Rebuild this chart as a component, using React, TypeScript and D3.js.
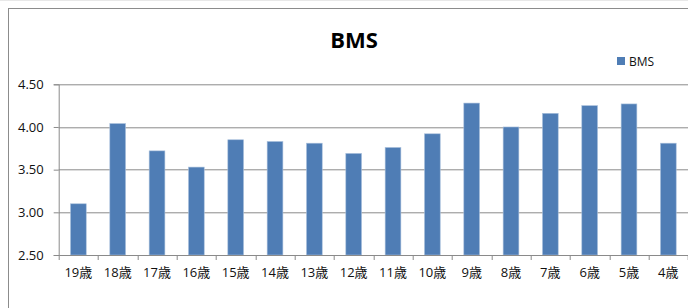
import * as d3 from "d3";
import { useEffect, useRef } from "react";

const ages = ["19歳", "18歳", "17歳", "16歳", "15歳", "14歳", "13歳", "12歳", "11歳", "10歳", "9歳", "8歳", "7歳", "6歳", "5歳", "4歳"];
const bmsValues = [3.10, 4.04, 3.72, 3.53, 3.85, 3.83, 3.81, 3.69, 3.76, 3.92, 4.28, 4.00, 4.16, 4.25, 4.27, 3.81];
const yTicks = [2.5, 3.0, 3.5, 4.0, 4.5];
const seriesName = "BMS";

const W = 688;
const H = 308;

const App = () => {
    const ref = useRef<SVGSVGElement>(null);

    useEffect(() => {
        const svg = d3.select(ref.current);
        svg.selectAll("*").remove();

        const margin = { top: 84.3, bottom: 53, left: 58.7, right: 0 };
        const boundsW = W - margin.left - margin.right;
        const boundsH = H - margin.top - margin.bottom;
        const font = "'Open Sans', 'Noto Sans CJK JP', sans-serif";

        // chart frame
        svg.append("line").attr("x1", 0).attr("x2", W).attr("y1", 0.5).attr("y2", 0.5)
            .attr("stroke", "#e8e8e8");
        svg.append("rect").attr("x", 8.5).attr("y", 8.5).attr("width", W).attr("height", H)
            .attr("fill", "white").attr("stroke", "#8c8c8c");

        const x = d3.scaleBand().domain(ages).range([0, boundsW]);
        const y = d3.scaleLinear().domain([2.5, 4.5]).range([boundsH, 0]);

        const g = svg.append("g").attr("transform", `translate(${margin.left}, ${margin.top})`);

        // gridlines
        g.selectAll(".grid").data(yTicks.slice(1)).enter().append("line")
            .attr("x1", 0).attr("x2", boundsW)
            .attr("y1", d => Math.round(y(d)) + 0.5).attr("y2", d => Math.round(y(d)) + 0.5)
            .attr("stroke", "#8a8a8a");

        // bars
        const bw = x.bandwidth() * 0.4;
        g.selectAll(".bar").data(bmsValues).enter().append("rect")
            .attr("x", (d, i) => x(ages[i])! + (x.bandwidth() - bw) / 2)
            .attr("y", d => y(d))
            .attr("width", bw)
            .attr("height", d => boundsH - y(d))
            .attr("fill", "#4f7db5")
            .attr("stroke", "#a9c0dc").attr("stroke-width", 0.6);

        // y axis
        const yAxis = d3.axisLeft(y).tickValues(yTicks).tickFormat(d3.format(".2f")).tickSize(5).tickPadding(10);
        const ya = g.append("g").call(yAxis);
        ya.select(".domain").attr("stroke", "#8a8a8a");
        ya.selectAll("line").attr("stroke", "#8a8a8a");
        ya.selectAll("text").attr("font-family", font).attr("font-size", 13).attr("fill", "#111");

        // x axis
        const xAxis = d3.axisBottom(x).tickSize(0).tickPadding(13);
        const xa = g.append("g").attr("transform", `translate(0, ${boundsH})`).call(xAxis);
        xa.select(".domain").attr("stroke", "#8a8a8a");
        xa.selectAll("text").attr("font-family", font).attr("font-size", 13).attr("fill", "#111");
        xa.selectAll(".sep").data(d3.range(ages.length + 1)).enter().append("line")
            .attr("x1", i => Math.round(i * x.step()) + 0.5).attr("x2", i => Math.round(i * x.step()) + 0.5)
            .attr("y1", 0).attr("y2", 5).attr("stroke", "#8a8a8a");

        // title
        svg.append("text").attr("x", 354).attr("y", 48).attr("text-anchor", "middle")
            .attr("font-family", font).attr("font-weight", "bold").attr("font-size", 22)
            .attr("fill", "#000").text(seriesName);

        // legend
        svg.append("rect").attr("x", 617).attr("y", 57).attr("width", 8).attr("height", 8).attr("fill", "#4f7db5");
        svg.append("text").attr("x", 629).attr("y", 66).attr("font-family", font).attr("font-size", 12)
            .attr("fill", "#111").text(seriesName);
    }, []);

    return (
        <svg ref={ref} width={W} height={H} style={{ position: "absolute", left: 0, top: 0 }}></svg>
    );
};

export default App;
